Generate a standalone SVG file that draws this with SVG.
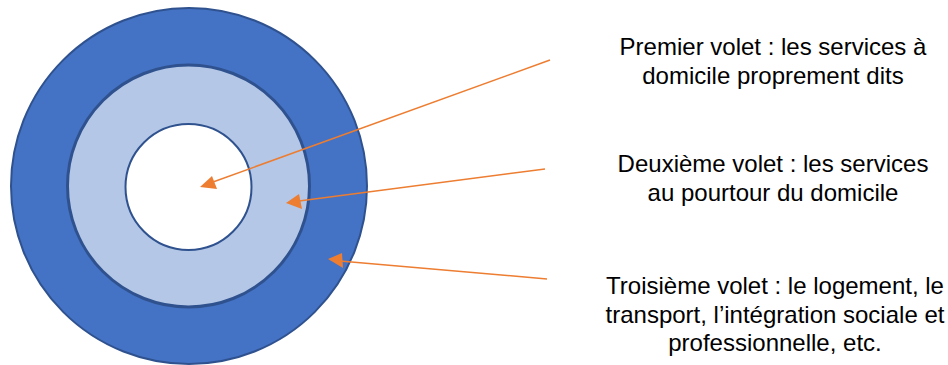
<svg xmlns="http://www.w3.org/2000/svg" width="948" height="365" viewBox="0 0 948 365">
  <defs>
    <style>
      .ring { stroke: #2F528F; }
      .lbl { font-family: "Liberation Sans", Arial, sans-serif; font-size: 24px; fill: #000000; text-anchor: middle; }
      .conn { stroke: #ED7D31; stroke-width: 1.5; fill: none; }
      .head { fill: #ED7D31; }
    </style>
  </defs>
  <rect width="948" height="365" fill="#FFFFFF"/>
  <g id="outer-ring">
    <circle class="ring" cx="189" cy="186" r="178" fill="#4472C4" stroke-width="2"/>
  </g>
  <g id="middle-ring">
    <circle class="ring" cx="188.5" cy="186" r="121" fill="#B4C7E7" stroke-width="3"/>
  </g>
  <g id="inner-circle">
    <circle class="ring" cx="188.5" cy="187" r="63" fill="#FFFFFF" stroke-width="2"/>
  </g>
  <g id="connectors">
    <line class="conn" x1="550" y1="60" x2="213" y2="182"/>
    <polygon class="head" points="200,187 212,176 217,189"/>
    <line class="conn" x1="545" y1="169" x2="299" y2="201"/>
    <polygon class="head" points="286,203 299,194 302,209"/>
    <line class="conn" x1="547" y1="279" x2="340" y2="261"/>
    <polygon class="head" points="328,259 342,253 343,268"/>
  </g>
  <g id="label-premier">
    <text class="lbl" x="773" y="55">Premier volet : les services à</text>
    <text class="lbl" x="773" y="84">domicile proprement dits</text>
  </g>
  <g id="label-deuxieme">
    <text class="lbl" x="773" y="172">Deuxième volet : les services</text>
    <text class="lbl" x="773" y="201">au pourtour du domicile</text>
  </g>
  <g id="label-troisieme">
    <text class="lbl" x="775" y="294">Troisième volet : le logement, le</text>
    <text class="lbl" x="775" y="323">transport, l’intégration sociale et</text>
    <text class="lbl" x="775" y="351">professionnelle, etc.</text>
  </g>
</svg>
